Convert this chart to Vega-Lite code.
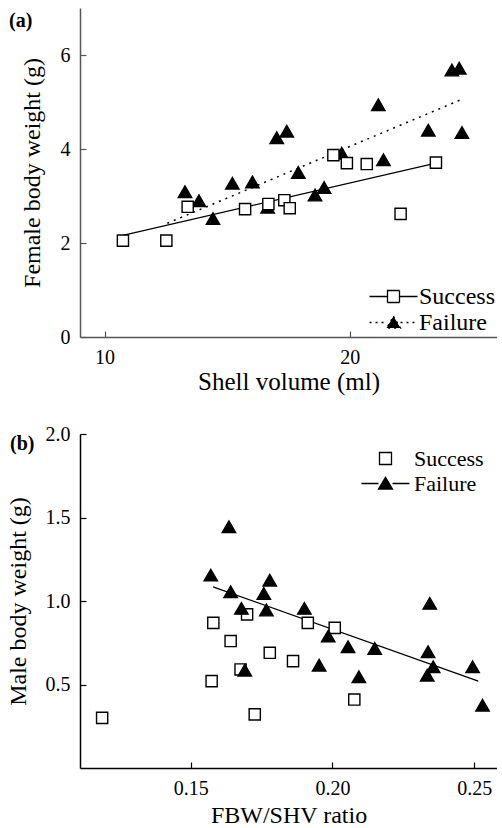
{
  "$schema": "https://vega.github.io/schema/vega-lite/v6.json",
  "background": "white",
  "padding": {"left": 6, "top": 8, "right": 0, "bottom": 0},
  "spacing": 30,
  "config": {
    "view": {"stroke": null},
    "font": "Liberation Serif",
    "axis": {
      "grid": false,
      "tickSize": -6,
      "labelPadding": 16,
      "labelFont": "Liberation Serif",
      "labelFontSize": 20,
      "labelColor": "black",
      "titleFont": "Liberation Serif",
      "titleFontSize": 24,
      "titleFontWeight": "normal",
      "titleColor": "black",
      "domainWidth": 1.5,
      "tickWidth": 1.2
    },
    "legend": {"labelFont": "Liberation Serif", "labelColor": "black", "symbolStrokeColor": "black", "symbolStrokeWidth": 1.3, "symbolOpacity": 1},
    "title": {"font": "Liberation Serif", "fontSize": 20, "fontWeight": "bold", "color": "black", "anchor": "start", "frame": "group"}
  },
  "vconcat": [
    {
      "width": 417,
      "height": 329,
      "title": {"text": "(a)", "dx": -71, "dy": 27},
      "resolve": {"scale": {"shape": "independent", "fill": "independent", "size": "independent", "strokeDash": "independent", "stroke": "independent"}},
      "layer": [
        {
          "data": {"values": [
            {"x": 10.75, "y": 2.16, "g": "Success"},
            {"x": 23.51, "y": 3.70, "g": "Success"}
          ]},
          "mark": {"type": "line", "color": "black", "strokeWidth": 1.3},
          "encoding": {
            "x": {"field": "x", "type": "quantitative", "scale": {"domain": [9, 26], "nice": false, "zero": false}},
            "y": {"field": "y", "type": "quantitative", "scale": {"domain": [0, 7], "nice": false}}
          }
        },
        {
          "data": {"values": [
            {"x": 12.56, "y": 2.42, "g": "Failure"},
            {"x": 24.49, "y": 5.04, "g": "Failure"}
          ]},
          "mark": {"type": "line", "color": "black", "strokeWidth": 1.5, "strokeDash": [2, 5]},
          "encoding": {
            "x": {"field": "x", "type": "quantitative"},
            "y": {"field": "y", "type": "quantitative"}
          }
        },
        {
          "data": {"values": [
            {"x": 13.28, "y": 3.09, "g": "Failure"},
            {"x": 13.85, "y": 2.90, "g": "Failure"},
            {"x": 14.42, "y": 2.52, "g": "Failure"},
            {"x": 15.21, "y": 3.27, "g": "Failure"},
            {"x": 16.03, "y": 3.30, "g": "Failure"},
            {"x": 16.65, "y": 2.76, "g": "Failure"},
            {"x": 17.02, "y": 4.24, "g": "Failure"},
            {"x": 17.43, "y": 4.38, "g": "Failure"},
            {"x": 17.90, "y": 3.50, "g": "Failure"},
            {"x": 18.58, "y": 3.02, "g": "Failure"},
            {"x": 18.95, "y": 3.18, "g": "Failure"},
            {"x": 19.67, "y": 3.91, "g": "Failure"},
            {"x": 21.16, "y": 4.94, "g": "Failure"},
            {"x": 21.37, "y": 3.77, "g": "Failure"},
            {"x": 23.20, "y": 4.40, "g": "Failure"},
            {"x": 24.16, "y": 5.68, "g": "Failure"},
            {"x": 24.46, "y": 5.72, "g": "Failure"},
            {"x": 24.57, "y": 4.35, "g": "Failure"},
            {"x": 10.75, "y": 2.05, "g": "Success"},
            {"x": 12.52, "y": 2.05, "g": "Success"},
            {"x": 13.39, "y": 2.77, "g": "Success"},
            {"x": 15.73, "y": 2.72, "g": "Success"},
            {"x": 16.68, "y": 2.83, "g": "Success"},
            {"x": 17.33, "y": 2.91, "g": "Success"},
            {"x": 17.55, "y": 2.74, "g": "Success"},
            {"x": 19.33, "y": 3.87, "g": "Success"},
            {"x": 19.88, "y": 3.70, "g": "Success"},
            {"x": 20.69, "y": 3.68, "g": "Success"},
            {"x": 22.07, "y": 2.62, "g": "Success"},
            {"x": 23.51, "y": 3.71, "g": "Success"}
          ]},
          "mark": {"type": "point", "filled": true, "stroke": "black", "strokeWidth": 1.4, "opacity": 1},
          "encoding": {
            "x": {"field": "x", "type": "quantitative", "title": "Shell volume (ml)", "axis": {"values": [10, 20], "format": "d", "domainColor": "#555", "tickColor": "#555", "titlePadding": 2, "titleFontSize": 25}},
            "y": {"field": "y", "type": "quantitative", "title": "Female body weight (g)", "axis": {"values": [0, 2, 4, 6], "format": "d", "domainColor": "#555", "tickColor": "#555", "titlePadding": 16}},
            "shape": {"field": "g", "type": "nominal", "scale": {"domain": ["Success", "Failure"], "range": ["square", "triangle-up"]}, "legend": null},
            "fill": {"field": "g", "type": "nominal", "scale": {"domain": ["Success", "Failure"], "range": ["white", "black"]}, "legend": null},
            "size": {"field": "g", "type": "nominal", "scale": {"domain": ["Success", "Failure"], "range": [125, 180]}, "legend": null}
          }
        },
        {
          "data": {"values": [
            {"g": "Success"},
            {"g": "Failure"}
          ]},
          "mark": {"type": "point", "filled": true, "strokeWidth": 1.3, "opacity": 1},
          "encoding": {
            "x": {"field": "x", "type": "quantitative"},
            "y": {"field": "y", "type": "quantitative"},
            "shape": {"field": "g", "type": "nominal", "scale": {"domain": ["Success", "Failure"], "range": ["M-1.92,0H-0.48M0.48,0H1.92M-0.48,-0.48H0.48V0.48H-0.48Z", "M-1.92,0H-0.56M0.56,0H1.92M0,-0.5L0.56,0.44L-0.56,0.44Z"]},
              "legend": {"title": null, "orient": "bottom-right", "offset": 2, "labelFontSize": 24, "labelOffset": 12, "rowPadding": 0, "symbolSize": 625}},
            "fill": {"field": "g", "type": "nominal", "scale": {"domain": ["Success", "Failure"], "range": ["white", "black"]},
              "legend": {"title": null, "orient": "bottom-right", "offset": 2, "labelFontSize": 24, "labelOffset": 12, "rowPadding": 0, "symbolSize": 625}},
            "stroke": {"field": "g", "type": "nominal", "scale": {"domain": ["Success", "Failure"], "range": ["black", "black"]},
              "legend": {"title": null, "orient": "bottom-right", "offset": 2, "labelFontSize": 24, "labelOffset": 12, "rowPadding": 0, "symbolSize": 625}},
            "strokeDash": {"field": "g", "type": "nominal", "scale": {"domain": ["Success", "Failure"], "range": [[1, 0], [2, 4]]},
              "legend": {"title": null, "orient": "bottom-right", "offset": 2, "labelFontSize": 24, "labelOffset": 12, "rowPadding": 0, "symbolSize": 625}}
          }
        }
      ]
    },
    {
      "width": 417,
      "height": 334,
      "title": {"text": "(b)", "dx": -70, "dy": 34},
      "resolve": {"scale": {"shape": "independent", "fill": "independent", "size": "independent", "stroke": "independent"}},
      "layer": [
        {
          "data": {"values": [
            {"x": 0.1579, "y": 1.085, "g": "Failure"},
            {"x": 0.2514, "y": 0.520, "g": "Failure"}
          ]},
          "mark": {"type": "line", "color": "black", "strokeWidth": 1.3},
          "encoding": {
            "x": {"field": "x", "type": "quantitative", "scale": {"domain": [0.111, 0.258], "nice": false, "zero": false}},
            "y": {"field": "y", "type": "quantitative", "scale": {"domain": [0, 2], "nice": false}}
          }
        },
        {
          "data": {"values": [
            {"x": 0.1188, "y": 0.300, "g": "Success"},
            {"x": 0.1574, "y": 0.520, "g": "Success"},
            {"x": 0.1580, "y": 0.869, "g": "Success"},
            {"x": 0.1641, "y": 0.760, "g": "Success"},
            {"x": 0.1699, "y": 0.920, "g": "Success"},
            {"x": 0.1676, "y": 0.590, "g": "Success"},
            {"x": 0.1726, "y": 0.321, "g": "Success"},
            {"x": 0.1779, "y": 0.690, "g": "Success"},
            {"x": 0.1861, "y": 0.640, "g": "Success"},
            {"x": 0.1913, "y": 0.869, "g": "Success"},
            {"x": 0.2008, "y": 0.839, "g": "Success"},
            {"x": 0.2077, "y": 0.410, "g": "Success"},
            {"x": 0.1571, "y": 1.155, "g": "Failure"},
            {"x": 0.1635, "y": 1.445, "g": "Failure"},
            {"x": 0.1641, "y": 1.055, "g": "Failure"},
            {"x": 0.1779, "y": 1.125, "g": "Failure"},
            {"x": 0.1758, "y": 1.045, "g": "Failure"},
            {"x": 0.1679, "y": 0.956, "g": "Failure"},
            {"x": 0.1767, "y": 0.946, "g": "Failure"},
            {"x": 0.1901, "y": 0.956, "g": "Failure"},
            {"x": 0.2343, "y": 0.986, "g": "Failure"},
            {"x": 0.1691, "y": 0.586, "g": "Failure"},
            {"x": 0.1953, "y": 0.616, "g": "Failure"},
            {"x": 0.1985, "y": 0.790, "g": "Failure"},
            {"x": 0.2055, "y": 0.726, "g": "Failure"},
            {"x": 0.2093, "y": 0.546, "g": "Failure"},
            {"x": 0.2149, "y": 0.716, "g": "Failure"},
            {"x": 0.2337, "y": 0.696, "g": "Failure"},
            {"x": 0.2334, "y": 0.556, "g": "Failure"},
            {"x": 0.2355, "y": 0.606, "g": "Failure"},
            {"x": 0.2494, "y": 0.606, "g": "Failure"},
            {"x": 0.2529, "y": 0.376, "g": "Failure"}
          ]},
          "mark": {"type": "point", "filled": true, "stroke": "black", "strokeWidth": 1.4, "opacity": 1},
          "encoding": {
            "x": {"field": "x", "type": "quantitative", "title": "FBW/SHV ratio", "axis": {"values": [0.15, 0.2, 0.25], "format": ".2f", "domainColor": "black", "tickColor": "black", "titlePadding": 5, "labelPadding": 16}},
            "y": {"field": "y", "type": "quantitative", "title": "Male body weight (g)", "axis": {"values": [0.5, 1, 1.5, 2], "format": ".1f", "domainColor": "black", "tickColor": "black", "titlePadding": 15}},
            "shape": {"field": "g", "type": "nominal", "scale": {"domain": ["Success", "Failure"], "range": ["square", "triangle-up"]}, "legend": null},
            "fill": {"field": "g", "type": "nominal", "scale": {"domain": ["Success", "Failure"], "range": ["white", "black"]}, "legend": null},
            "size": {"field": "g", "type": "nominal", "scale": {"domain": ["Success", "Failure"], "range": [125, 180]}, "legend": null}
          }
        },
        {
          "data": {"values": [
            {"g": "Success"},
            {"g": "Failure"}
          ]},
          "mark": {"type": "point", "filled": true, "strokeWidth": 1.3, "opacity": 1},
          "encoding": {
            "x": {"field": "x", "type": "quantitative"},
            "y": {"field": "y", "type": "quantitative"},
            "shape": {"field": "g", "type": "nominal", "scale": {"domain": ["Success", "Failure"], "range": ["M-0.48,-0.48H0.48V0.48H-0.48Z", "M-1.92,0H-0.56M0.56,0H1.92M0,-0.5L0.56,0.44L-0.56,0.44Z"]},
              "legend": {"title": null, "orient": "none", "legendX": 292, "legendY": 11, "labelFontSize": 22, "labelOffset": 15, "rowPadding": 0, "symbolSize": 625}},
            "fill": {"field": "g", "type": "nominal", "scale": {"domain": ["Success", "Failure"], "range": ["white", "black"]},
              "legend": {"title": null, "orient": "none", "legendX": 292, "legendY": 11, "labelFontSize": 22, "labelOffset": 15, "rowPadding": 0, "symbolSize": 625}},
            "stroke": {"field": "g", "type": "nominal", "scale": {"domain": ["Success", "Failure"], "range": ["black", "black"]},
              "legend": {"title": null, "orient": "none", "legendX": 292, "legendY": 11, "labelFontSize": 22, "labelOffset": 15, "rowPadding": 0, "symbolSize": 625}}
          }
        }
      ]
    }
  ]
}
